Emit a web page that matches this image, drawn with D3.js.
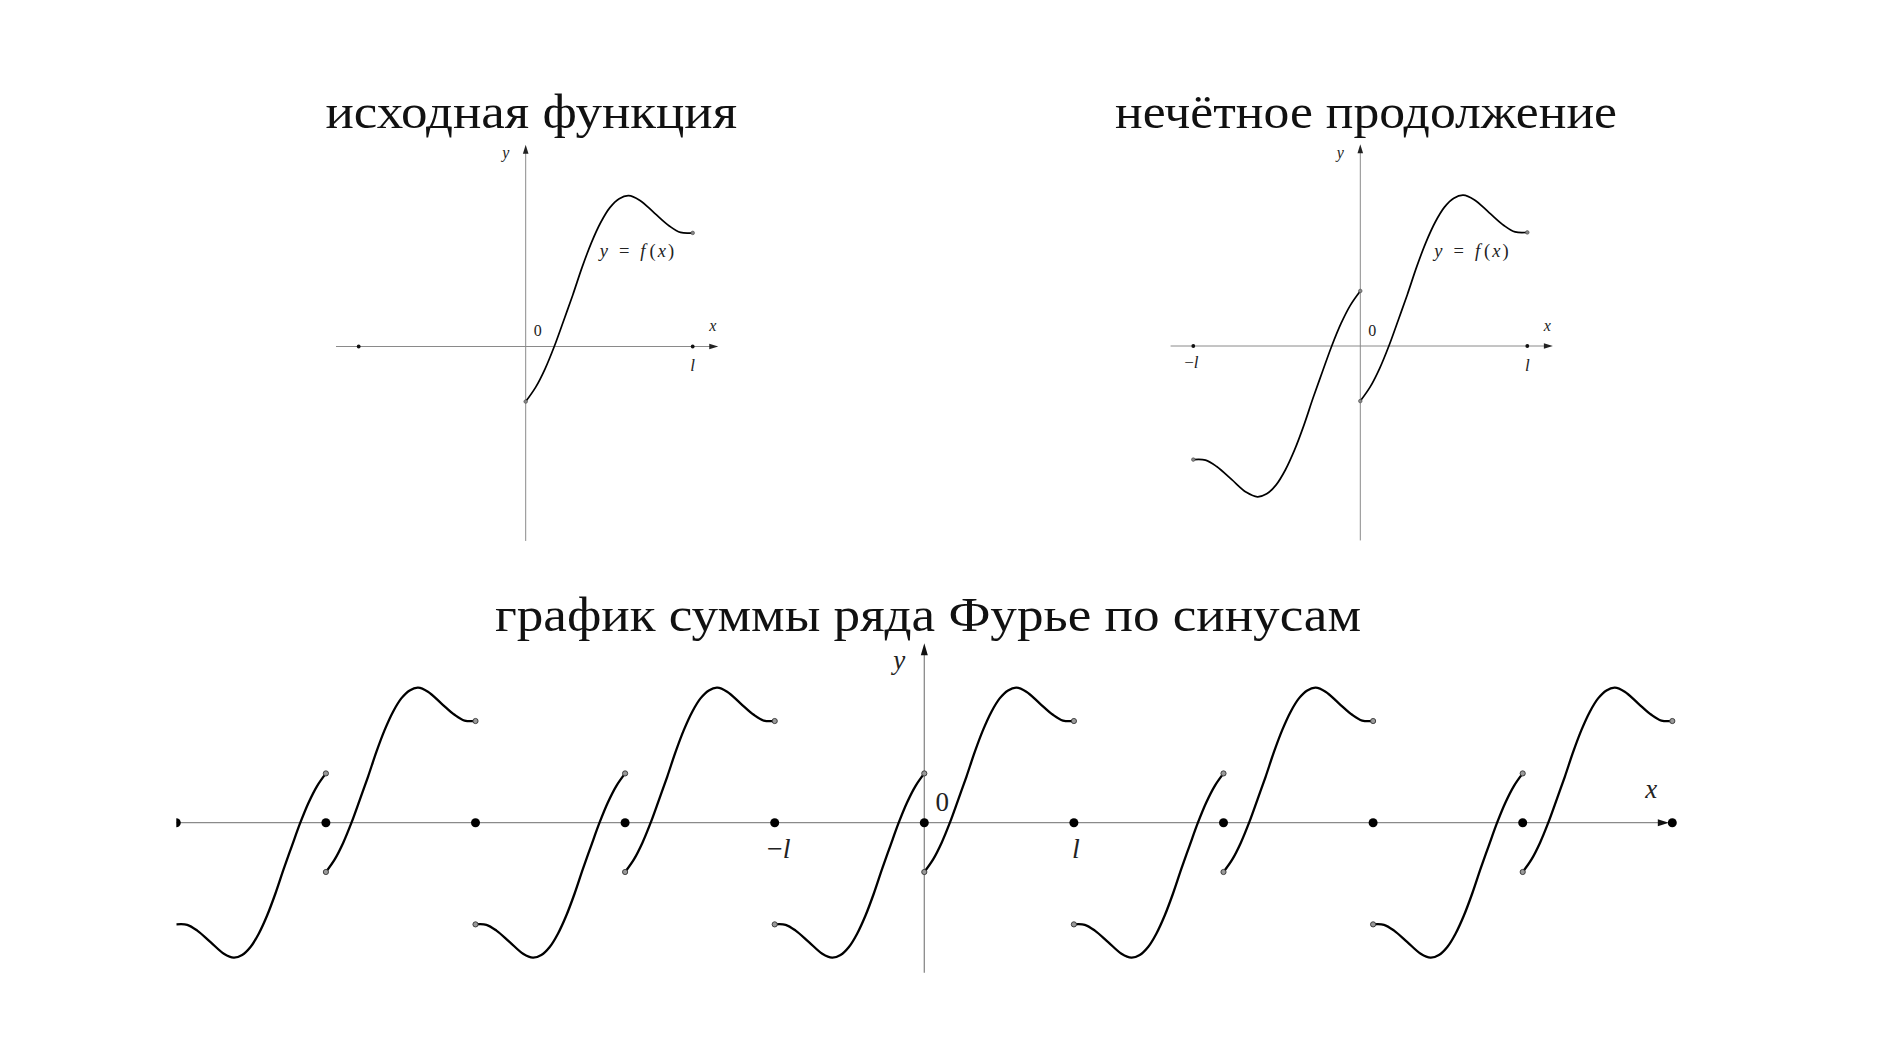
<!DOCTYPE html>
<html>
<head>
<meta charset="utf-8">
<script src="https://cdn.jsdelivr.net/npm/d3@7"></script>
<style>
  html, body { margin: 0; padding: 0; background: #fff; }
  svg { display: block; }
  .title { font-family: "Liberation Serif", "DejaVu Serif", serif; fill: #111; }
  .lab { font-family: "Liberation Serif", "DejaVu Serif", serif; fill: #222; }
</style>
</head>
<body>
<script>
// ---------- data ----------
const titles = ["исходная функция", "нечётное продолжение", "график суммы ряда Фурье по синусам"];
// f(x) on [0, l], x in units of l
const fX = [0, 0.06, 0.116, 0.171, 0.227, 0.282, 0.338, 0.393, 0.449, 0.504, 0.56, 0.616, 0.682, 0.771, 0.86, 0.927, 1.0];
const fY = [-1.11, -0.82, -0.45, 0, 0.52, 1.04, 1.60, 2.09, 2.5, 2.80, 2.98, 3.04, 2.95, 2.69, 2.43, 2.30, 2.29];
// bottom plot: multiples of l marked on the axis
const periodMarks = [-5, -4, -3, -2, -1, 0, 1, 2, 3, 4, 5];
const periodCenters = [-4, -2, 0, 2, 4];
const tickLabelsBottom = [{v: -1, t: "−l"}, {v: 1, t: "l"}];

// ---------- layout ----------
const W = 1890, H = 1063;
const svg = d3.select("body").append("svg").attr("width", W).attr("height", H);
svg.append("rect").attr("width", W).attr("height", H).attr("fill", "#fff");

const fPts = fX.map((x, i) => [x, fY[i]]);
const negPts = fPts.map(([x, y]) => [-x, -y]);
const lineGen = (xs, ys) => d3.line().x(d => xs(d[0])).y(d => ys(d[1])).curve(d3.curveCatmullRom.alpha(0.5));

function arrowRight(g, x, y, len, hw, fill) {
  g.append("path").attr("d", `M${x},${y}L${x - len},${y - hw}L${x - len},${y + hw}Z`).attr("fill", fill);
}
function arrowUp(g, x, y, len, hw, fill) {
  g.append("path").attr("d", `M${x},${y}L${x - hw},${y + len}L${x + hw},${y + len}Z`).attr("fill", fill);
}
function mathLabel(g, x, y, size, parts, anchor) {
  const t = g.append("text").attr("class", "lab").attr("x", x).attr("y", y)
    .attr("font-size", size).attr("text-anchor", anchor || "middle");
  parts.forEach(p => {
    const s = t.append("tspan").attr("font-style", p.i ? "italic" : "normal").text(p.s);
    if (p.dx) s.attr("dx", p.dx);
  });
  return t;
}

// ---------- top panels ----------
function topPanel(ox, oy, withOdd, title, titleX0, titleX1) {
  const g = svg.append("g");
  const lx = 167, uy = 49.6;
  const xs = d3.scaleLinear().domain([0, 1]).range([ox, ox + lx]);
  const ys = d3.scaleLinear().domain([0, 1]).range([oy, oy - uy]);

  g.append("text").attr("class", "title").attr("x", titleX0).attr("y", 128)
    .attr("font-size", 48).attr("textLength", titleX1 - titleX0)
    .attr("lengthAdjust", "spacingAndGlyphs").text(title);

  // axes
  g.append("line").attr("x1", xs(-1.136)).attr("x2", xs(1.12)).attr("y1", ys(0)).attr("y2", ys(0))
    .attr("stroke", "#8a8a8a").attr("stroke-width", 1);
  arrowRight(g, xs(1.153), ys(0), 9, 2.8, "#222");
  g.append("line").attr("x1", xs(0)).attr("x2", xs(0)).attr("y1", ys(-3.92)).attr("y2", ys(3.9))
    .attr("stroke", "#8a8a8a").attr("stroke-width", 1);
  arrowUp(g, xs(0), ys(4.07), 9, 2.8, "#222");

  // curves
  g.append("path").datum(fPts).attr("d", lineGen(xs, ys)).attr("fill", "none")
    .attr("stroke", "#000").attr("stroke-width", 1.7);
  if (withOdd) {
    g.append("path").datum(negPts).attr("d", lineGen(xs, ys)).attr("fill", "none")
      .attr("stroke", "#000").attr("stroke-width", 1.7);
  }
  // endpoint markers
  const ends = [[0, fY[0]], [1, fY[fY.length - 1]]];
  if (withOdd) ends.push([0, -fY[0]], [-1, -fY[fY.length - 1]]);
  g.selectAll(".end").data(ends).enter().append("circle")
    .attr("cx", d => xs(d[0])).attr("cy", d => ys(d[1])).attr("r", 1.8)
    .attr("fill", "#888").attr("stroke", "#444").attr("stroke-width", 0.6);
  // dots at -l, l
  g.selectAll(".pt").data([-1, 1]).enter().append("circle")
    .attr("cx", d => xs(d)).attr("cy", ys(0)).attr("r", 1.9).attr("fill", "#111");

  // labels
  mathLabel(g, ox - 20, 158, 16, [{s: "y", i: true}]);
  mathLabel(g, ox + 12, 336, 16, [{s: "0"}]);
  mathLabel(g, xs(1.12), 331, 16, [{s: "x", i: true}]);
  mathLabel(g, xs(1), 371, 17, [{s: "l", i: true}]);
  if (withOdd) mathLabel(g, xs(-1) - 2, 368, 17, [{s: "−"}, {s: "l", i: true}]);
  mathLabel(g, ox + 74, 257, 18.5, [
    {s: "y", i: true}, {s: "=", dx: 11}, {s: "f", i: true, dx: 11},
    {s: "(", dx: 4}, {s: "x", i: true, dx: 2}, {s: ")", dx: 2}], "start");
}

topPanel(525.7, 346.5, false, titles[0], 325.5, 737);
topPanel(1360.3, 346.0, true, titles[1], 1115, 1617);

// ---------- bottom panel ----------
(function () {
  const g = svg.append("g");
  const ox = 924.3, oy = 822.7, lx = 149.6, uy = 44.4;
  const xs = d3.scaleLinear().domain([0, 1]).range([ox, ox + lx]);
  const ys = d3.scaleLinear().domain([0, 1]).range([oy, oy - uy]);

  g.append("text").attr("class", "title").attr("x", 495).attr("y", 631)
    .attr("font-size", 48).attr("textLength", 1361 - 495)
    .attr("lengthAdjust", "spacingAndGlyphs").text(titles[2]);

  svg.append("clipPath").attr("id", "clipB").append("rect")
    .attr("x", xs(-5)).attr("y", 600).attr("width", W - xs(-5)).attr("height", 420);
  const c = g.append("g").attr("clip-path", "url(#clipB)");

  // axes
  c.append("line").attr("x1", xs(-5)).attr("x2", xs(4.96)).attr("y1", ys(0)).attr("y2", ys(0))
    .attr("stroke", "#8a8a8a").attr("stroke-width", 1.3);
  arrowRight(c, xs(5) - 3.5, ys(0), 11, 3.5, "#111");
  c.append("line").attr("x1", xs(0)).attr("x2", xs(0)).attr("y1", ys(-3.38)).attr("y2", ys(3.8))
    .attr("stroke", "#8a8a8a").attr("stroke-width", 1.3);
  arrowUp(c, xs(0), ys(4.04), 12, 3.5, "#111");

  // periodic odd extension
  periodCenters.forEach(k => {
    const shift = p => [p[0] + k, p[1]];
    c.append("path").datum(fPts.map(shift)).attr("d", lineGen(xs, ys)).attr("fill", "none")
      .attr("stroke", "#000").attr("stroke-width", 2.3);
    c.append("path").datum(negPts.map(shift)).attr("d", lineGen(xs, ys)).attr("fill", "none")
      .attr("stroke", "#000").attr("stroke-width", 2.3);
  });

  // open endpoints
  const ends = [];
  periodCenters.forEach(k => {
    ends.push([k, fY[0]], [k, -fY[0]], [k + 1, fY[fY.length - 1]]);
    if (k - 1 > -5) ends.push([k - 1, -fY[fY.length - 1]]);
  });
  c.selectAll(".end").data(ends).enter().append("circle")
    .attr("cx", d => xs(d[0])).attr("cy", d => ys(d[1])).attr("r", 2.6)
    .attr("fill", "#999").attr("stroke", "#333").attr("stroke-width", 0.9);

  // sum values at jump points (zero)
  c.selectAll(".pt").data(periodMarks).enter().append("circle")
    .attr("cx", d => xs(d)).attr("cy", ys(0)).attr("r", 4.5).attr("fill", "#000");

  // labels
  mathLabel(g, ox - 25, 669, 27, [{s: "y", i: true}]);
  mathLabel(g, ox + 18, 811, 27, [{s: "0"}]);
  mathLabel(g, xs(4.86), 798, 27, [{s: "x", i: true}]);
  tickLabelsBottom.forEach(d => {
    const parts = d.t.startsWith("−") ? [{s: "−"}, {s: d.t.slice(1), i: true}] : [{s: d.t, i: true}];
    mathLabel(g, xs(d.v) + (d.v > 0 ? 2 : 4), 858, 28, parts);
  });
})();
</script>
</body>
</html>
